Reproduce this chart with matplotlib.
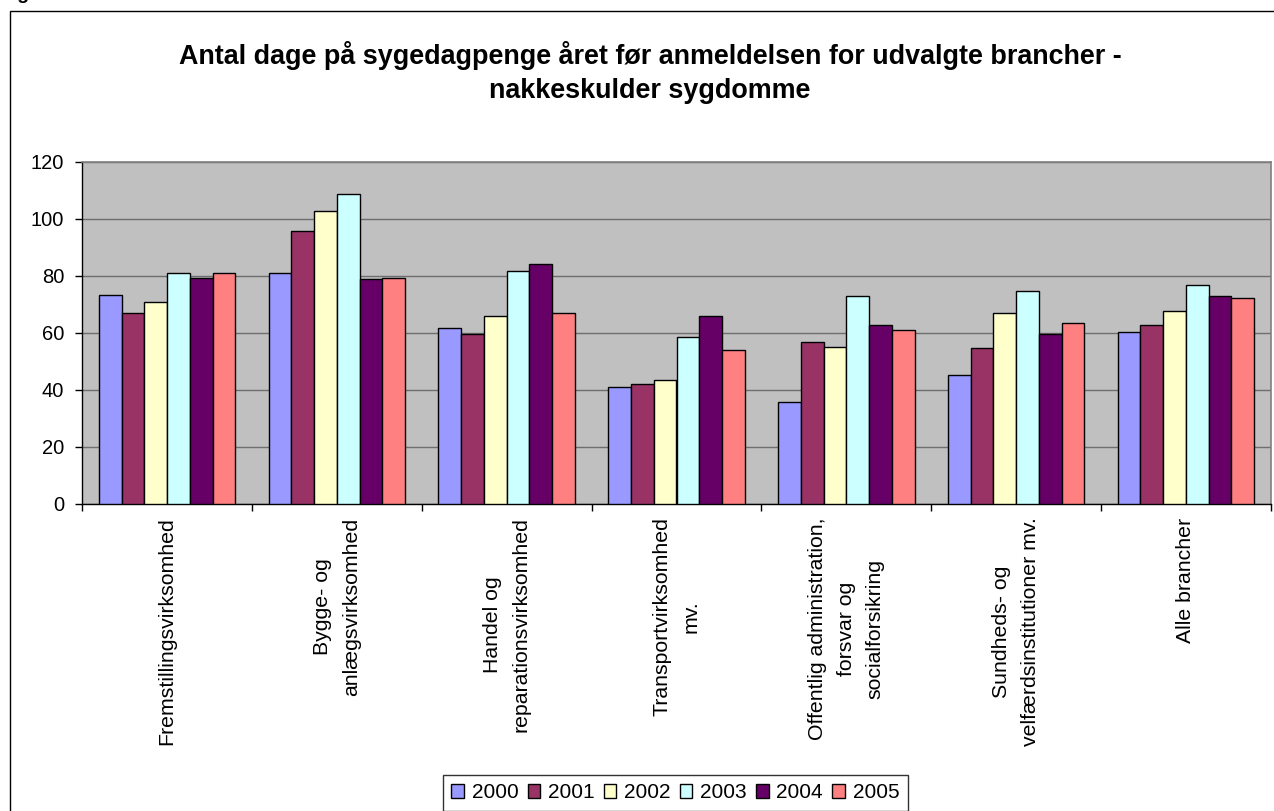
import numpy as np
import matplotlib
matplotlib.use("Agg")
import matplotlib.pyplot as plt
from matplotlib.patches import Rectangle

plt.rcParams['font.family'] = ['Liberation Sans', 'DejaVu Sans']

# data
categories = [
    "Fremstillingsvirksomhed",
    "Bygge- og\nanlægsvirksomhed",
    "Handel og\nreparationsvirksomhed",
    "Transportvirksomhed\nmv.",
    "Offentlig administration,\nforsvar og\nsocialforsikring",
    "Sundheds- og\nvelfærdsinstitutioner mv.",
    "Alle brancher",
]
years = ["2000", "2001", "2002", "2003", "2004", "2005"]
v2000 = [73.3, 80.9, 61.5, 40.9, 35.7, 45.1, 60.4]
v2001 = [66.9, 95.8, 59.4, 42.1, 56.8, 54.5, 62.8]
v2002 = [70.9, 102.8, 65.7, 43.4, 55.1, 66.9, 67.5]
v2003 = [80.9, 108.8, 81.5, 58.6, 72.9, 74.5, 76.8]
v2004 = [79.3, 78.7, 84.0, 65.7, 62.8, 59.4, 72.9]
v2005 = [80.9, 79.3, 66.9, 53.9, 60.9, 63.4, 72.2]
series = [v2000, v2001, v2002, v2003, v2004, v2005]
colors = ["#9999FF", "#993366", "#FFFFCC", "#CCFFFF", "#660066", "#FF8080"]

title = ("Antal dage på sygedagpenge året før anmeldelsen for udvalgte brancher -\n"
         "nakkeskulder sygdomme")

W, H = 1274, 811
fig = plt.figure(figsize=(W / 100, H / 100), dpi=100)

# plot area in pixels: left 82, right 1271, top 162, bottom 504
left, right, top, bottom = 82.3, 1270.7, 161.7, 503.7
ax = fig.add_axes([left / W, 1 - bottom / H, (right - left) / W, (bottom - top) / H])
ax.set_facecolor("#C0C0C0")

x = np.arange(len(categories))
bw = 0.134
for i, (vals, c, yr) in enumerate(zip(series, colors, years)):
    ax.bar(x + (i - 2.5) * bw, vals, width=bw, color=c, edgecolor="black",
           linewidth=1.0, label=yr, zorder=3)

ax.set_xlim(-0.5, len(categories) - 0.5)
ax.set_ylim(0, 120)
ax.set_yticks(np.arange(0, 121, 20))
ax.yaxis.grid(True, color="#6E6E6E", linewidth=1.0, zorder=1)
ax.set_axisbelow(True)

# tick marks on category boundaries, labels at centres
ax.set_xticks(np.arange(-0.5, len(categories), 1.0))
ax.set_xticklabels([])
ax.set_xticks(x, minor=True)
ax.set_xticklabels(categories, minor=True, rotation=90, ha="center", va="top",
                   multialignment="center", fontsize=15.3, linespacing=1.65)
ax.tick_params(axis="x", which="minor", length=0, pad=10)
ax.tick_params(axis="x", which="major", length=5, width=1, color="black", direction="out")
ax.tick_params(axis="y", length=5, width=1, color="black", direction="out",
               labelsize=14.5, pad=8)

for s in ["top", "right"]:
    ax.spines[s].set_color("#808080")
    ax.spines[s].set_linewidth(1.2)
for s in ["left", "bottom"]:
    ax.spines[s].set_color("black")
    ax.spines[s].set_linewidth(1.0)

fig.text(650 / W, 1 - 41 / H, title, ha="center", va="top", fontsize=19.4,
         fontweight="bold", linespacing=1.42)

leg = ax.legend(loc="upper left", bbox_to_anchor=(443 / W, 1 - 775 / H),
                bbox_transform=fig.transFigure, ncol=6, fontsize=15,
                frameon=True, fancybox=False, borderaxespad=0, borderpad=0.4,
                handlelength=0.6, handleheight=0.6, handletextpad=0.37,
                columnspacing=0.45)
leg.get_frame().set_edgecolor("black")
leg.get_frame().set_linewidth(1.0)

# outer chart frame (right and bottom run off the picture)
fig.add_artist(Rectangle((9.5 / W, -0.05), 1.1, 1 - 11 / H + 0.05,
                         transform=fig.transFigure, fill=False,
                         edgecolor="black", linewidth=1.0))
fig.text(1 / W, 1 + 1 / H, "Figur", ha="left", va="baseline", fontsize=14,
         fontweight="bold")

fig.savefig("out.png", dpi=100)
